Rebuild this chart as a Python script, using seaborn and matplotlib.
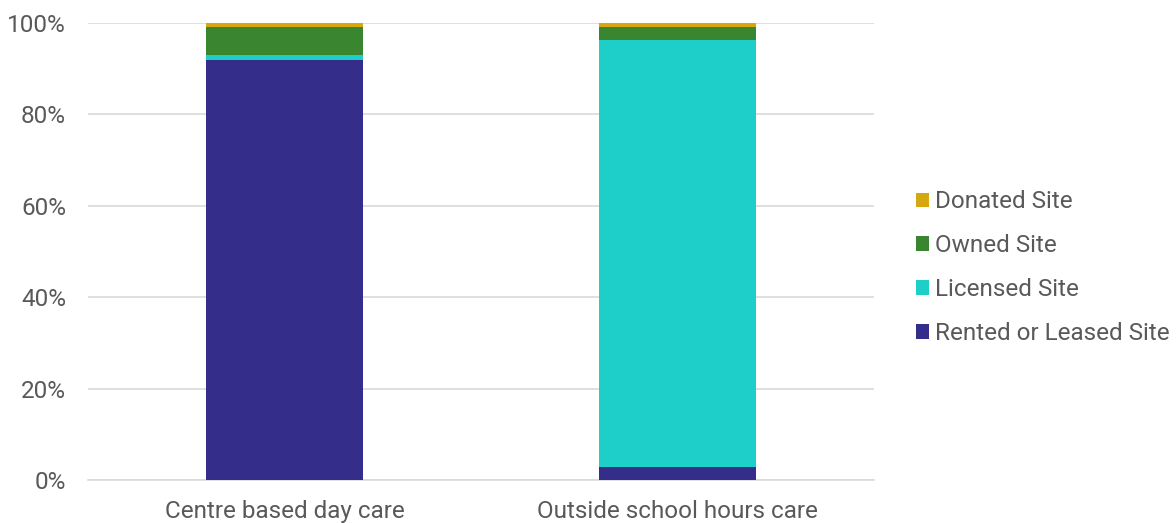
import matplotlib
matplotlib.use("Agg")
import matplotlib.pyplot as plt
import seaborn as sns
import numpy as np
import pandas as pd
from matplotlib.patches import Patch
from matplotlib.ticker import FuncFormatter

categories = ["Centre based day care", "Outside school hours care"]
rented = [92.0, 2.8]
licensed = [1.0, 93.5]
owned = [6.2, 2.8]
donated = [0.8, 0.9]

series_names = ["Rented or Leased Site", "Licensed Site", "Owned Site", "Donated Site"]
colors = ["#342d8a", "#1ecfc9", "#3a8630", "#d6a80f"]

sns.set_theme(style="white")
plt.rcParams["font.family"] = ["Roboto", "DejaVu Sans"]

fig = plt.figure(figsize=(11.76, 5.23), dpi=100)
ax = fig.add_axes([0.075, 0.082, 0.668, 0.874])

vals = np.array([rented, licensed, owned, donated])
cum = np.cumsum(vals, axis=0)

# draw from top-most cumulative down
for i in range(len(series_names) - 1, -1, -1):
    df = pd.DataFrame({"cat": categories, "val": cum[i]})
    sns.barplot(data=df, x="cat", y="val", color=colors[i], saturation=1,
                width=0.4, ax=ax, zorder=3, linewidth=0, edgecolor="none")

ax.set_ylim(0, 100)
ax.set_xlim(-0.5, 1.5)
ax.set_yticks([0, 20, 40, 60, 80, 100])
ax.yaxis.set_major_formatter(FuncFormatter(lambda v, p: f"{int(v)}%"))
ax.grid(axis="y", color="#d9d9d9", linewidth=1.2, zorder=0)
ax.set_axisbelow(True)
for s in ["top", "right", "left"]:
    ax.spines[s].set_visible(False)
ax.spines["bottom"].set_color("#d9d9d9")
ax.spines["bottom"].set_linewidth(1.2)
ax.set_xlabel("")
ax.set_ylabel("")
ax.tick_params(axis="both", length=0, labelsize=17.5, colors="#595959")
ax.tick_params(axis="y", pad=16)
ax.tick_params(axis="x", pad=14)

handles = [Patch(facecolor=colors[i], edgecolor="none", label=series_names[i])
           for i in range(len(series_names) - 1, -1, -1)]
leg = fig.legend(handles=handles, loc="center left", bbox_to_anchor=(0.760, 0.488),
                 frameon=False, fontsize=17.5, handlelength=0.55, handleheight=0.55,
                 handletextpad=0.25, labelspacing=0.86)
for t in leg.get_texts():
    t.set_color("#595959")

fig.savefig("out.png", dpi=100)
